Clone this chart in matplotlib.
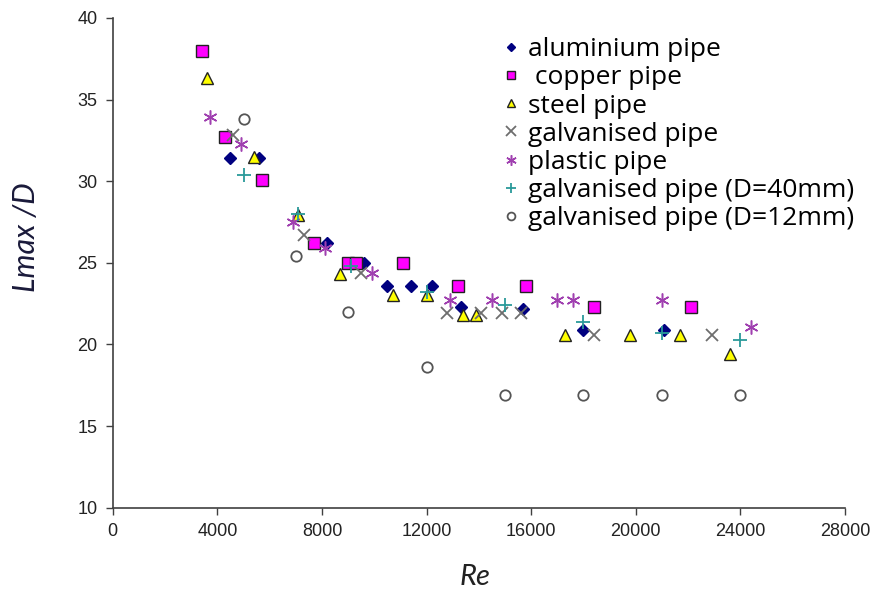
import numpy as np
import matplotlib
matplotlib.use('Agg')
import matplotlib.pyplot as plt

# Re and Lmax/D for each pipe series
alu_re = [4500, 5600, 8200, 9600, 10500, 11400, 12200, 13300, 15700, 18000, 21100]
alu_l = [31.4, 31.4, 26.2, 25.0, 23.6, 23.6, 23.6, 22.3, 22.2, 20.9, 20.9]

copper_re = [3400, 4300, 5700, 7700, 9000, 9300, 11100, 13200, 15800, 18400, 22100]
copper_l = [38.0, 32.7, 30.1, 26.2, 25.0, 25.0, 25.0, 23.6, 23.6, 22.3, 22.3]

steel_re = [3600, 5400, 7100, 8700, 10700, 12000, 13400, 13900, 17300, 19800, 21700, 23600]
steel_l = [36.3, 31.5, 27.9, 24.3, 23.0, 23.0, 21.8, 21.8, 20.6, 20.6, 20.6, 19.4]

galv_re = [4600, 7300, 9500, 12800, 14100, 14900, 15600, 18400, 22900]
galv_l = [32.8, 26.7, 24.4, 21.9, 21.9, 21.9, 21.9, 20.6, 20.6]

plastic_re = [3700, 4900, 6900, 8100, 9900, 12900, 14500, 17000, 17600, 21000, 24400]
plastic_l = [33.9, 32.3, 27.5, 25.9, 24.4, 22.7, 22.7, 22.7, 22.7, 22.7, 21.1]

d40_re = [5000, 7100, 9100, 12000, 15000, 18000, 21000, 24000]
d40_l = [30.4, 28.0, 24.8, 23.2, 22.4, 21.4, 20.7, 20.3]

d12_re = [5000, 7000, 9000, 12000, 15000, 18000, 21000, 24000]
d12_l = [33.8, 25.4, 22.0, 18.6, 16.9, 16.9, 16.9, 16.9]

x_ticks = [0, 4000, 8000, 12000, 16000, 20000, 24000, 28000]
y_ticks = [10, 15, 20, 25, 30, 35, 40]

fig = plt.figure(figsize=(8.81, 5.96), dpi=100)
ax = fig.add_axes([0.128, 0.148, 0.831, 0.822])

ax.plot(alu_re, alu_l, 'D', ms=6, color='#000080', mec='#000080', label='aluminium pipe', zorder=3)
ax.plot(copper_re, copper_l, 's', ms=8, color='#ff00ff', mec='#222222', mew=1.0, label=' copper pipe', zorder=3)
ax.plot(steel_re, steel_l, '^', ms=8.5, color='#ffff00', mec='#222222', mew=1.0, label='steel pipe', zorder=3)
ax.plot(galv_re, galv_l, 'x', ms=9, color='#6e6e6e', mew=1.3, label='galvanised pipe', zorder=3)
ax.plot(plastic_re, plastic_l, ls='none', marker=(6, 2, 0), ms=10, color='#a040b0', mew=1.1,
        label='plastic pipe', zorder=3)
ax.plot(d40_re, d40_l, '+', ms=10, color='#2a9a9a', mew=1.3, label='galvanised pipe (D=40mm)', zorder=4)
ax.plot(d12_re, d12_l, 'o', ms=7.5, mfc='white', mec='#555555', mew=1.3,
        label='galvanised pipe (D=12mm)', zorder=3)

ax.set_xlim(0, 28000)
ax.set_ylim(10, 40)
ax.set_xticks(x_ticks)
ax.set_yticks(y_ticks)
ax.set_xticklabels([str(v) for v in x_ticks], fontsize=13, family='Liberation Sans')
ax.set_yticklabels([str(v) for v in y_ticks], fontsize=13, family='Liberation Sans')
ax.tick_params(direction='out', length=5, width=1, color='#404040', labelcolor='#222222', pad=6)

for side in ['top', 'right']:
    ax.spines[side].set_visible(False)
for side in ['left', 'bottom']:
    ax.spines[side].set_color('#404040')
    ax.spines[side].set_linewidth(1.2)

ax.set_xlabel('Re', fontsize=21, style='italic', family='Lato', color='#222222', va='top')
ax.xaxis.set_label_coords(0.495, -0.115)
ax.set_ylabel('Lmax /D', fontsize=22, style='italic', family='Lato', color='#1a1a3a')
ax.yaxis.set_label_coords(-0.099, 0.553)

leg = ax.legend(loc='upper left', bbox_to_anchor=(490 / 881, 1 - 24 / 596), bbox_transform=fig.transFigure,
                frameon=False, prop={'family': 'Open Sans', 'size': 19}, handlelength=0.6,
                handletextpad=0.35, labelspacing=0.12, markerscale=0.75, borderpad=0)

fig.savefig('out.png', dpi=100)
